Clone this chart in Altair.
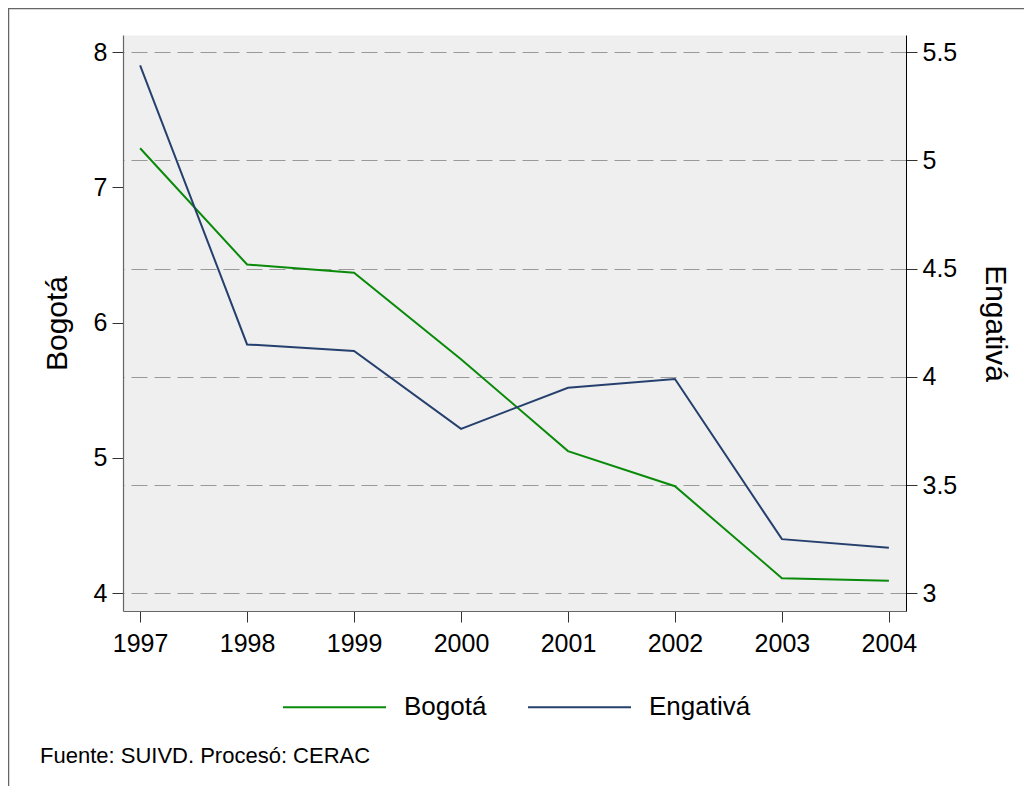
import altair as alt
import pandas as pd

years = [1997, 1998, 1999, 2000, 2001, 2002, 2003, 2004]
bogota = [7.29, 6.43, 6.37, 5.73, 5.05, 4.79, 4.11, 4.09]
engativa = [5.44, 4.15, 4.12, 3.76, 3.95, 3.99, 3.25, 3.21]
series_names = ["Bogotá", "Engativá"]
series_colors = ["#0a8a0a", "#26406e"]
left_ticks = [4, 5, 6, 7, 8]
right_ticks = [3, 3.5, 4, 4.5, 5, 5.5]
caption = "Fuente: SUIVD. Procesó: CERAC"

FONT = "Liberation Sans"

df_b = pd.DataFrame({"year": years, "value": bogota, "series": series_names[0]})
df_e = pd.DataFrame({"year": years, "value": engativa, "series": series_names[1]})

x_enc = alt.X(
    "year:Q",
    scale=alt.Scale(domain=[1996.84, 2004.16], nice=False, zero=False),
    axis=alt.Axis(
        values=years, format="d", title=None, grid=False,
        tickSize=11, labelPadding=9, labelFontSize=25, labelFont=FONT,
        labelColor="black", domainColor="#666666", tickColor="#333333",
        domainWidth=1.2, labelFlush=False,
    ),
)

color_enc = alt.Color(
    "series:N",
    scale=alt.Scale(domain=series_names, range=series_colors),
    title=None,
    legend=alt.Legend(
        orient="none", legendX=159, legendY=619.5, direction="horizontal",
        symbolType="stroke", symbolSize=10609, symbolStrokeWidth=2,
        labelFontSize=26, labelFont=FONT, labelColor="black", labelOffset=17,
        columnPadding=37, padding=0,
    ),
)

left = alt.Chart(df_b).mark_line(strokeWidth=2).encode(
    x=x_enc,
    y=alt.Y(
        "value:Q",
        scale=alt.Scale(domain=[3.867, 8.128], nice=False, zero=False),
        axis=alt.Axis(
            orient="left", values=left_ticks, format="~g", title="Bogotá", grid=False,
            tickSize=11, labelPadding=5, labelFontSize=25, labelFont=FONT,
            labelColor="black", domainColor="#666666", tickColor="#333333",
            domainWidth=1.2, titleFontSize=30, titleFont=FONT,
            titleFontWeight="normal", titleColor="black", titlePadding=21,
            labelFlush=False,
        ),
    ),
    color=color_enc,
)

right = alt.Chart(df_e).mark_line(strokeWidth=2).encode(
    x=x_enc,
    y=alt.Y(
        "value:Q",
        scale=alt.Scale(domain=[2.918, 5.58], nice=False, zero=False),
        axis=alt.Axis(
            orient="right", values=right_ticks, format="~g", title="Engativá", grid=True,
            gridDash=[16, 7], gridColor="#999999", gridWidth=1,
            tickSize=11, labelPadding=5, labelFontSize=25, labelFont=FONT,
            labelColor="black", domainColor="black", tickColor="#333333",
            domainWidth=1, titleFontSize=30, titleFont=FONT,
            titleFontWeight="normal", titleColor="black", titlePadding=23,
            labelFlush=False,
        ),
    ),
    color=color_enc,
)

dummy = pd.DataFrame({"t": [caption]})

cap = alt.Chart(dummy).mark_text(
    align="left", baseline="alphabetic", fontSize=22, font=FONT, color="black"
).encode(text="t:N", x=alt.value(-83), y=alt.value(728))

frame_left = alt.Chart(dummy).mark_rule(color="#666666", strokeWidth=1.5).encode(
    x=alt.value(-114.5), y=alt.value(-27), y2=alt.value(800)
)
frame_top = alt.Chart(dummy).mark_rule(color="#666666", strokeWidth=1.5).encode(
    x=alt.value(-114.5), x2=alt.value(920), y=alt.value(-26.5)
)

chart = (
    alt.layer(left, right, cap, frame_left, frame_top)
    .resolve_scale(y="independent")
    .properties(
        width=783, height=576,
        autosize=alt.AutoSizeParams(type="none"),
        padding={"left": 115, "top": 27, "right": 118, "bottom": 175},
        background="white",
    )
    .configure_view(fill="#efefef", stroke="transparent")
)

chart.save("out.html", embed_options={"renderer": "svg", "actions": False})
